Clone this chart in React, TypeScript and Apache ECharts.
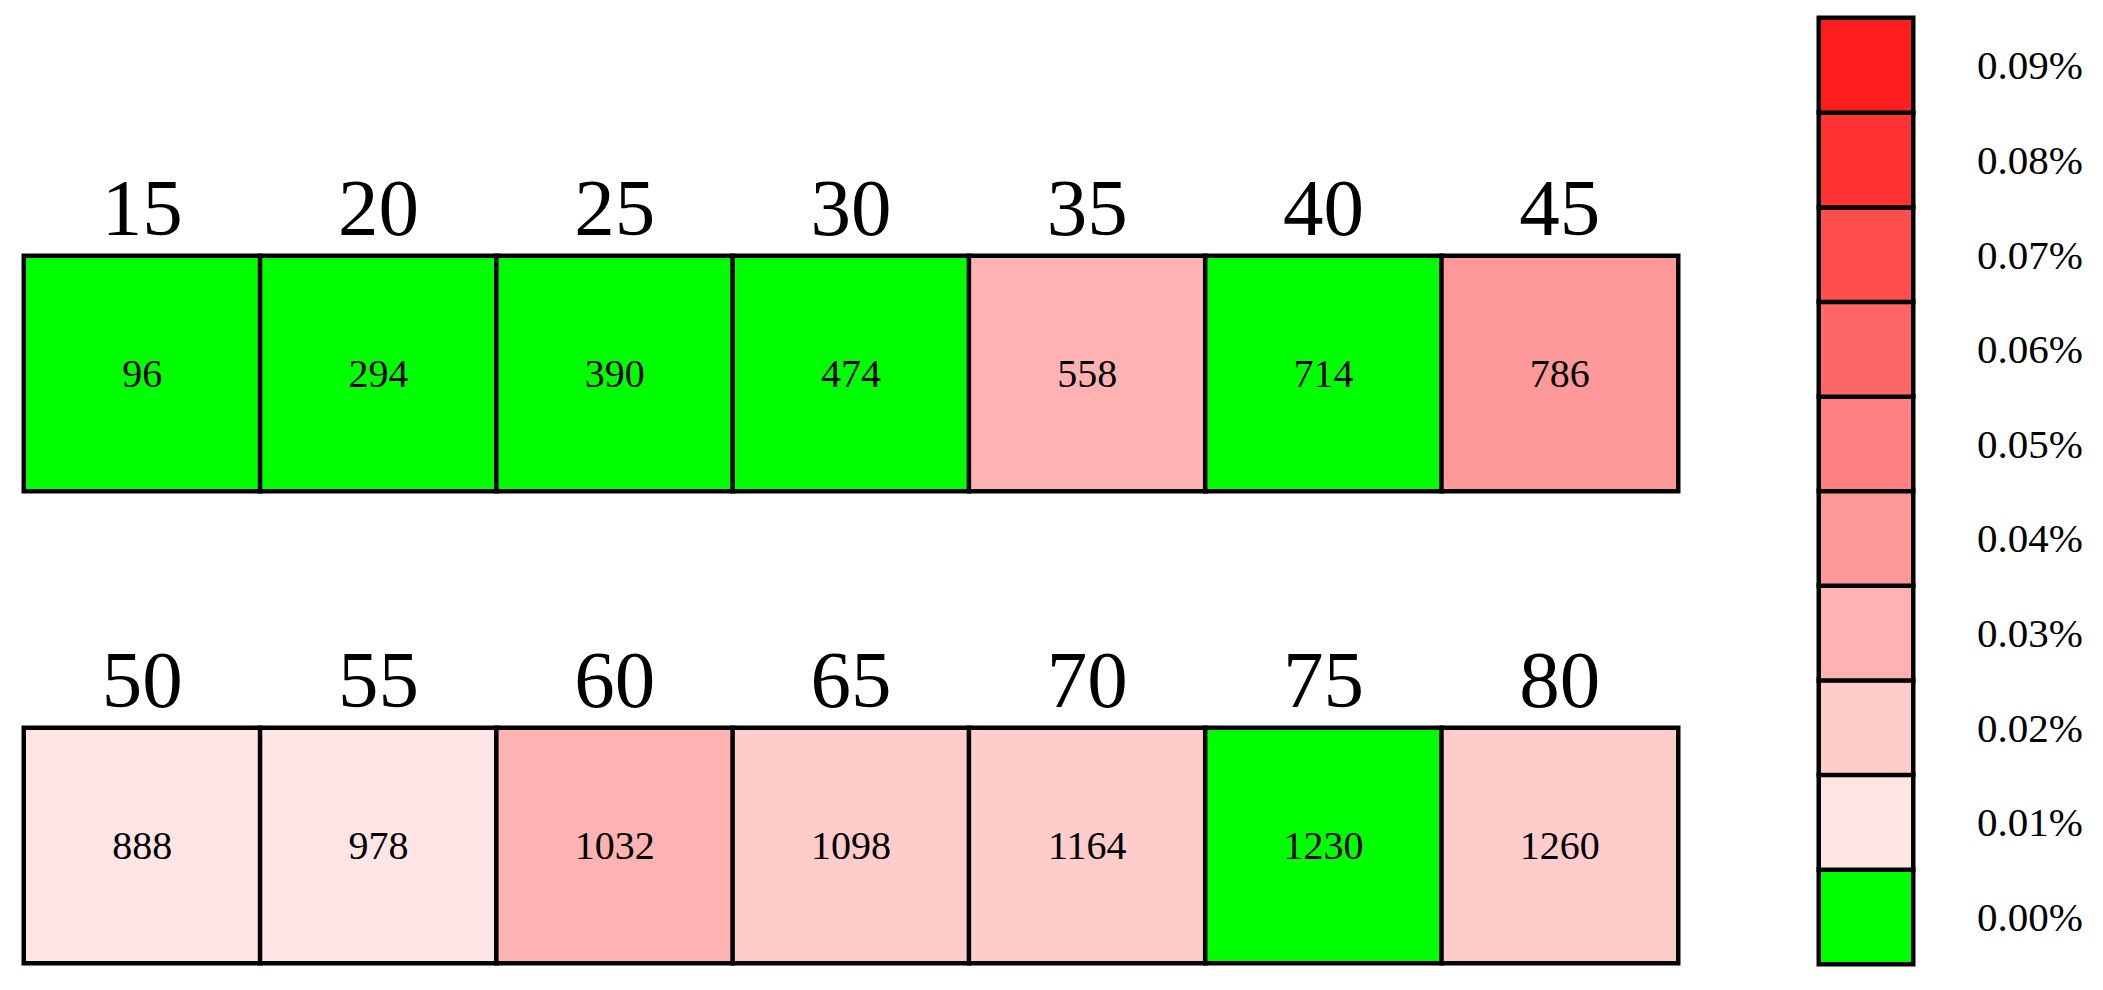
import React, { useEffect, useRef } from "react";
import * as echarts from "echarts";

const topAges = ["15", "20", "25", "30", "35", "40", "45"];
const topCounts = [96, 294, 390, 474, 558, 714, 786];
const topLevels = [0, 0, 0, 0, 3, 0, 4];

const bottomAges = ["50", "55", "60", "65", "70", "75", "80"];
const bottomCounts = [888, 978, 1032, 1098, 1164, 1230, 1260];
const bottomLevels = [1, 1, 3, 2, 2, 0, 2];

const levelLabels = ["0.00%", "0.01%", "0.02%", "0.03%", "0.04%", "0.05%", "0.06%", "0.07%", "0.08%", "0.09%"];
const levelColors = ["#00FF00", "#FFE5E5", "#FFCCCC", "#FFB2B2", "#FF9999", "#FF8080", "#FF6666", "#FF4D4D", "#FF3333", "#FF1E1E"];

const FONT = "'Liberation Serif', 'Times New Roman', serif";

export default function App() {
  const ref = useRef<HTMLDivElement>(null);
  useEffect(() => {
    document.body.style.margin = "0";
    const chart = echarts.init(ref.current!, undefined, { renderer: "svg" });
    const rowXAxis = (data: string[], gridIndex: number) => ({
      type: "category",
      data,
      gridIndex,
      position: "top",
      axisLine: { show: false },
      axisTick: { show: false },
      splitLine: { show: false },
      axisLabel: { fontSize: 81, fontFamily: FONT, color: "#000", margin: 8, interval: 0 },
    });
    const hiddenCat = (gridIndex: number) => ({ type: "category", data: [""], gridIndex, show: false });
    const cellSeries = (counts: number[], levels: number[], idx: number) => ({
      type: "heatmap",
      xAxisIndex: idx,
      yAxisIndex: idx,
      data: counts.map((c, i) => [i, 0, levels[i], c]),
      itemStyle: { borderColor: "#000", borderWidth: 4.5 },
      label: {
        show: true,
        formatter: (p: any) => String(p.data[3]),
        fontSize: 40,
        fontFamily: FONT,
        color: "#000",
      },
      emphasis: { disabled: true },
    });
    chart.setOption({
      animation: false,
      backgroundColor: "#fff",
      grid: [
        { left: 24, top: 256, width: 1654, height: 235 },
        { left: 24, top: 728, width: 1654, height: 235 },
        { left: 1819, top: 18, width: 94, height: 946 },
      ],
      xAxis: [
        rowXAxis(topAges, 0),
        rowXAxis(bottomAges, 1),
        hiddenCat(2),
      ],
      yAxis: [
        hiddenCat(0),
        hiddenCat(1),
        {
          type: "category",
          data: levelLabels,
          gridIndex: 2,
          position: "right",
          axisLine: { show: false },
          axisTick: { show: false },
          splitLine: { show: false },
          axisLabel: { fontSize: 41, fontFamily: FONT, color: "#000", margin: 64, interval: 0 },
        },
      ],
      visualMap: {
        type: "piecewise",
        show: false,
        dimension: 2,
        seriesIndex: [0, 1, 2],
        pieces: levelColors.map((c, i) => ({ value: i, color: c })),
      },
      series: [
        cellSeries(topCounts, topLevels, 0),
        cellSeries(bottomCounts, bottomLevels, 1),
        {
          type: "heatmap",
          xAxisIndex: 2,
          yAxisIndex: 2,
          data: levelLabels.map((_, i) => [0, i, i]),
          itemStyle: { borderColor: "#000", borderWidth: 4.5 },
          label: { show: false },
          emphasis: { disabled: true },
        },
      ],
    });
    return () => chart.dispose();
  }, []);
  return <div ref={ref} style={{ position: "absolute", left: 0, top: 0, width: 2103, height: 990 }} />;
}
